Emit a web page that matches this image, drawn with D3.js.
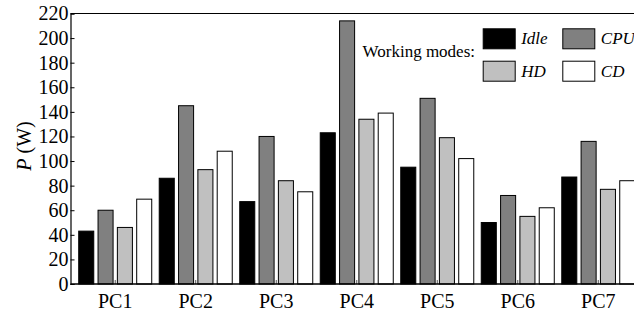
<!DOCTYPE html>
<html>
<head>
<meta charset="utf-8">
<script src="https://cdn.jsdelivr.net/npm/d3@7"></script>
<style>
  html, body { margin: 0; padding: 0; background: #fff; }
  svg { display: block; }
  svg text { font-family: 'Liberation Serif', 'Times New Roman', serif !important; fill: #000; }
</style>
</head>
<body>
<svg id="chart" width="634" height="320"></svg>
<script>
// Power draw per machine and working mode
const machines = ["PC1", "PC2", "PC3", "PC4", "PC5", "PC6", "PC7"];
const modes = ["Idle", "CPU", "HD", "CD"];
const idle = [43, 86, 67, 123, 95, 50, 87];
const cpu  = [60, 145, 120, 214, 151, 72, 116];
const hd   = [46, 93, 84, 134, 119, 55, 77];
const cd   = [69, 108, 75, 139, 102, 62, 84];
const yTicks = [0, 20, 40, 60, 80, 100, 120, 140, 160, 180, 200, 220];
const modeFill = ["#000000", "#808080", "#c0c0c0", "#ffffff"];

const seriesValues = [idle, cpu, hd, cd];
const rows = machines.map((m, i) => ({
  machine: m,
  values: modes.map((mode, j) => ({ mode, value: seriesValues[j][i] }))
}));

const W = 634, H = 320;
const plotLeft = 70.5, plotTop = 13.5, plotBottom = 284;
const serif = "'Liberation Serif', 'Times New Roman', serif";
const svg = d3.select("#chart").style("font-family", serif);

const y = d3.scaleLinear().domain([0, 220]).range([plotBottom, plotTop]);
const x0 = d3.scaleBand().domain(machines).range([75, 638.5])
  .paddingInner(0.0807).paddingOuter(0.04);
const x1 = d3.scaleBand().domain(modes).range([0, x0.bandwidth()])
  .paddingInner(0.17).paddingOuter(0);
const color = d3.scaleOrdinal().domain(modes).range(modeFill);

// x ticks sit at group centres, pointing inward, behind the bars
svg.append("g")
  .selectAll("line")
  .data(machines)
  .join("line")
  .attr("x1", d => x0(d) + x0.bandwidth() / 2)
  .attr("x2", d => x0(d) + x0.bandwidth() / 2)
  .attr("y1", plotBottom)
  .attr("y2", plotBottom - 4)
  .attr("stroke", "#555")
  .attr("stroke-width", 1);

// bars
svg.append("g")
  .selectAll("g")
  .data(rows)
  .join("g")
  .attr("transform", d => `translate(${x0(d.machine)},0)`)
  .selectAll("rect")
  .data(d => d.values)
  .join("rect")
  .attr("x", d => x1(d.mode) + 0.5)
  .attr("y", d => y(d.value))
  .attr("width", x1.bandwidth() - 1)
  .attr("height", d => plotBottom - y(d.value))
  .attr("fill", d => color(d.mode))
  .attr("stroke", "#000")
  .attr("stroke-width", 1);

// frame: top edge and baseline
svg.append("line").attr("x1", plotLeft).attr("x2", W).attr("y1", plotTop).attr("y2", plotTop)
  .attr("stroke", "#000").attr("stroke-width", 1.2);
svg.append("line").attr("x1", plotLeft).attr("x2", W).attr("y1", plotBottom).attr("y2", plotBottom)
  .attr("stroke", "#000").attr("stroke-width", 1.4);

const yAxis = d3.axisLeft(y).tickValues(yTicks).tickSize(-4).tickPadding(2)
  .tickFormat(d3.format("d"));
const gy = svg.append("g").attr("transform", `translate(${plotLeft},0)`).call(yAxis)
  .attr("font-family", null).attr("font-size", null);
gy.select(".domain").attr("stroke", "#000").attr("stroke-width", 1.2);
gy.selectAll(".tick line").attr("stroke", "#000");
gy.selectAll(".tick text")
  .style("font-family", serif)
  .style("font-size", "20px")
  .attr("fill", "#000");

// x labels
svg.append("g")
  .selectAll("text")
  .data(machines)
  .join("text")
  .attr("x", d => x0(d) + x0.bandwidth() / 2)
  .attr("y", 308)
  .attr("text-anchor", "middle")
  .style("font-family", serif)
  .style("font-size", "20px")
  .text(d => d);

// y title
const yt = svg.append("text")
  .attr("transform", "translate(31,146) rotate(-90)")
  .attr("text-anchor", "middle")
  .style("font-family", serif)
  .style("font-size", "20px");
yt.append("tspan").attr("font-style", "italic").text("P");
yt.append("tspan").text(" (W)");

// legend
const legend = svg.append("g");
legend.append("text")
  .attr("x", 475).attr("y", 57)
  .attr("text-anchor", "end")
  .style("font-family", serif)
  .style("font-size", "17px")
  .text("Working modes:");
const legendPos = [[482.7, 28.3], [562.3, 28.3], [482.7, 60.7], [562.3, 60.7]];
const items = legend.selectAll("g.item")
  .data(modes)
  .join("g")
  .attr("class", "item")
  .attr("transform", (d, i) => `translate(${legendPos[i][0]},${legendPos[i][1]})`);
items.append("rect")
  .attr("x", 0.5).attr("y", 0.5)
  .attr("width", 32).attr("height", 20)
  .attr("fill", d => color(d))
  .attr("stroke", "#000");
items.append("text")
  .attr("x", 38.5).attr("y", 16)
  .style("font-family", serif)
  .style("font-size", "17px")
  .style("font-style", "italic")
  .text(d => d);
</script>
</body>
</html>
